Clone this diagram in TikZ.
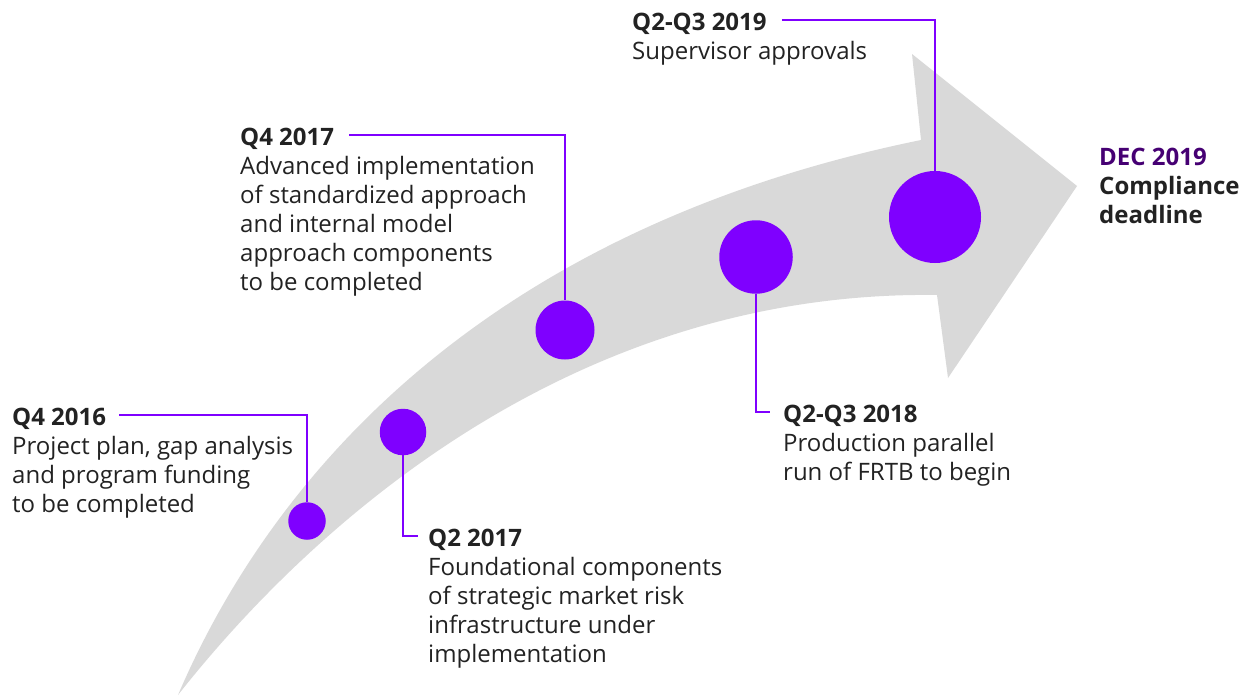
\documentclass[tikz,border=0pt]{standalone}
\usepackage{fontspec}
\setmainfont{Open Sans}
\usepackage{tikz}

\definecolor{violet}{HTML}{7F00FF}
\definecolor{deeppurple}{HTML}{460073}
\definecolor{band}{HTML}{D9D9D9}
\definecolor{ink}{HTML}{222222}

\tikzset{
  title/.style={anchor=base west, inner sep=0pt, text=ink,
    font=\fontsize{24}{29}\selectfont\bfseries},
  desc/.style={anchor=base west, inner sep=0pt, text=ink, align=left,
    font=\fontsize{24}{29}\selectfont},
  dot/.style={circle, fill=violet, inner sep=0pt, minimum size=#1},
  lead/.style={violet, line width=2pt}
}

\begin{document}
\begin{tikzpicture}[x=1pt, y=-1pt]
    \useasboundingbox (0, 0) rectangle (1246, 696);

    % the curved arrow
    \fill [band] (178, 695) .. controls (270, 480) and (480, 230) .. (921, 140)
      -- (912, 54) -- (1077, 186) -- (948, 378) -- (937, 295)
      .. controls (560, 290) and (300, 540) .. (178, 695) -- cycle;

    % milestones
    \node [dot=37.5] (c1) at (307, 521) {};
    \node [dot=46.5] (c2) at (403, 432) {};
    \node [dot=59] (c3) at (565, 330) {};
    \node [dot=73.5] (c4) at (756, 257) {};
    \node [dot=92] (c5) at (935, 217) {};

    % texts (desc nodes sit on the baseline of their last line)
    \node [title] (t1) at (12, 425) {Q4 2016};
    \node [desc] (d1) at (12, 512) {Project plan, gap analysis\\and program funding\\to be completed};

    \node [title] (t2) at (428, 546) {Q2 2017};
    \node [desc] (d2) at (428, 662) {Foundational components\\of strategic market risk\\infrastructure under\\implementation};

    \node [title] (t3) at (240, 145) {Q4 2017};
    \node [desc] (d3) at (240, 290) {Advanced implementation\\of standardized approach\\and internal model\\approach components\\to be completed};

    \node [title] (t4) at (783, 422) {Q2-Q3 2018};
    \node [desc] (d4) at (783, 480) {Production parallel\\run of FRTB to begin};

    \node [title] (t5) at (632, 30) {Q2-Q3 2019};
    \node [desc] (d5) at (632, 59) {Supervisor approvals};

    \node [title, text=deeppurple] (t6) at (1099, 165) {DEC 2019};
    \node [desc, font=\fontsize{24}{29}\selectfont\bfseries] (d6) at (1099, 223) {Compliance\\deadline};

    % leaders, 10pt above the title baseline
    \draw [lead] ([shift={(13,-10)}]t1.base east) -| (c1);
    \draw [lead] (c2) |- ([shift={(-10,-10)}]t2.base west);
    \draw [lead] ([shift={(15,-10)}]t3.base east) -| (c3);
    \draw [lead] (c4) |- ([shift={(-13,-10)}]t4.base west);
    \draw [lead] ([shift={(15,-10)}]t5.base east) -| (c5);
  \end{tikzpicture}
\end{document}
